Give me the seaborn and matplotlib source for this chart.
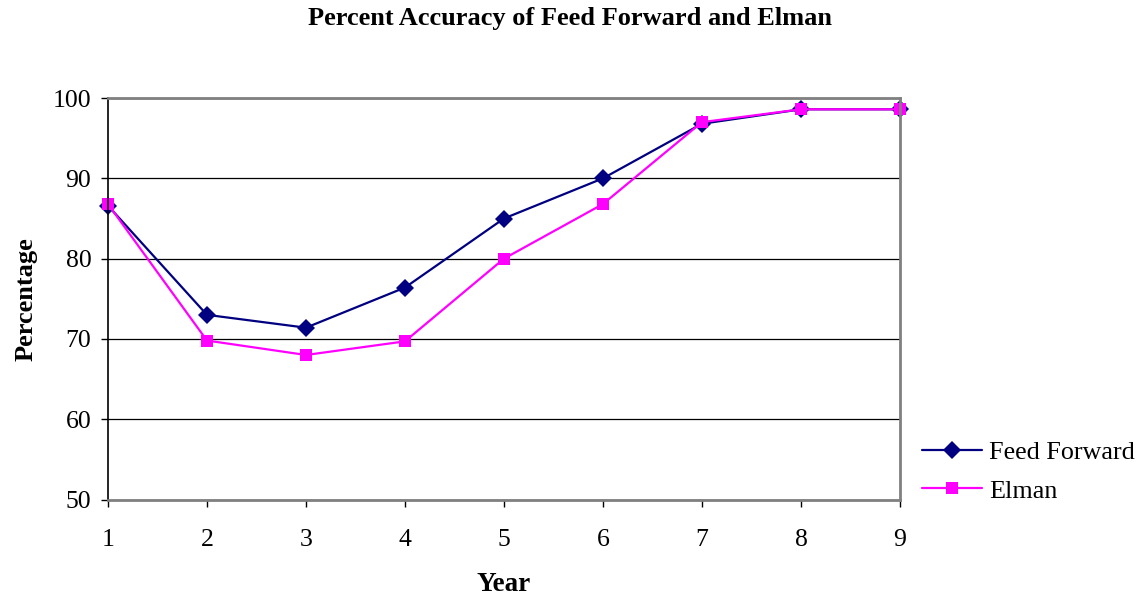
import matplotlib
matplotlib.use("Agg")
import matplotlib.pyplot as plt
import seaborn as sns
import pandas as pd
from matplotlib.lines import Line2D

years = [1, 2, 3, 4, 5, 6, 7, 8, 9]
feed_forward = [86.6, 73.0, 71.4, 76.4, 85.0, 90.0, 96.8, 98.6, 98.6]
elman = [86.8, 69.8, 68.0, 69.7, 80.0, 86.8, 97.0, 98.6, 98.6]
series_names = ["Feed Forward", "Elman"]
y_ticks = [50, 60, 70, 80, 90, 100]

df = pd.DataFrame({
    "Year": years * 2,
    "Percentage": feed_forward + elman,
    "Model": [series_names[0]] * len(years) + [series_names[1]] * len(years),
})

sns.set_style("white")
plt.rcParams["font.family"] = ["Liberation Serif", "DejaVu Serif"]
plt.rcParams["text.color"] = "black"
plt.rcParams["axes.labelcolor"] = "black"
plt.rcParams["xtick.color"] = "black"
plt.rcParams["ytick.color"] = "black"

fig = plt.figure(figsize=(11.46, 5.98), dpi=100)
ax = fig.add_axes([0.0942, 0.1647, 0.6911, 0.6713])

palette = {"Feed Forward": "#000080", "Elman": "#FF00FF"}
markers = {"Feed Forward": "D", "Elman": "s"}
msize = {"Feed Forward": 9.5, "Elman": 8.5}
sns.lineplot(data=df, x="Year", y="Percentage", hue="Model", style="Model",
             palette=palette, markers=markers, dashes=False, linewidth=1.6,
             markersize=8, markeredgewidth=0, ax=ax, legend=False, clip_on=False)
for line, name in zip(ax.lines, series_names):
    line.set_markersize(msize[name])

ax.set_xlim(1, 9)
ax.set_ylim(50, 100)
ax.set_xticks(years)
ax.set_yticks(y_ticks)
ax.tick_params(axis="both", direction="out", length=5, width=1, color="black",
               labelsize=18.5, labelcolor="black", left=True, bottom=True)
ax.tick_params(axis="y", pad=7)
ax.tick_params(axis="x", pad=16)
ax.yaxis.grid(True, color="black", linewidth=0.9)
ax.xaxis.grid(False)

for side in ["top", "right", "bottom"]:
    ax.spines[side].set_color("#808080")
    ax.spines[side].set_linewidth(2)
ax.spines["left"].set_color("black")
ax.spines["left"].set_linewidth(1.2)

ax.set_xlabel("Year", fontsize=19.5, fontweight="bold", labelpad=15, color="black")
ax.set_ylabel("Percentage", fontsize=19, fontweight="bold", labelpad=11, color="black")
fig.suptitle("Percent Accuracy of Feed Forward and Elman", x=0.4975, y=0.988,
             fontsize=19, fontweight="bold", color="black")

handles = [Line2D([], [], color=palette[n], marker=markers[n], linewidth=1.6,
                  markersize=msize[n], markeredgewidth=0) for n in series_names]
fig.legend(handles, series_names, loc="upper left", bbox_to_anchor=(0.795, 0.281),
           frameon=False, fontsize=18.8, handlelength=2.3, handletextpad=0.3,
           labelspacing=0.6, borderaxespad=0, labelcolor="black")

fig.savefig("out.png", dpi=100)
